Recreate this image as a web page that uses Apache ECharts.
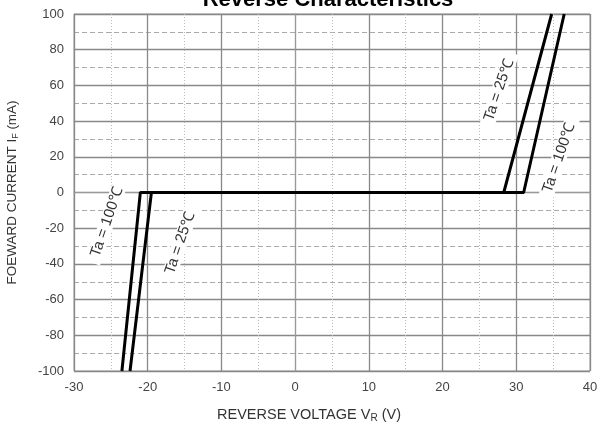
<!DOCTYPE html>
<html>
<head>
<meta charset="utf-8">
<script src="https://cdn.jsdelivr.net/npm/echarts@6/dist/echarts.min.js"></script>
<style>html,body{margin:0;padding:0;background:#fff}#c{width:597px;height:426px}</style>
</head>
<body>
<div id="c"></div>
<script>
const titleText = 'Reverse Characteristics';
const xTicks = [-30, -20, -10, 0, 10, 20, 30, 40];
const yTicks = [-100, -80, -60, -40, -20, 0, 20, 40, 60, 80, 100];
const curve25V = [-22.4, -19.5, 28.3, 34.8];
const curve25I = [-100, 0, 0, 100];
const curve100V = [-23.5, -21.0, 31.0, 36.5];
const curve100I = [-100, 0, 0, 100];
const labels = ['Ta = 25℃', 'Ta = 100℃'];

const chart = echarts.init(document.getElementById('c'), null, {renderer: 'canvas'});
const pair = (xs, ys) => xs.map((v, i) => [v, ys[i]]);
const font = 'Liberation Sans, Arial, sans-serif';
const lbl = (text, x, y) => ({
  type: 'text', x: x, y: y, rotation: 71 * Math.PI / 180, z: 10,
  style: {text: text, fontFamily: font, fontSize: 15, fontStyle: 'normal', fill: '#333',
    align: 'center', verticalAlign: 'middle', backgroundColor: '#fff', padding: [0, 7]}
});
chart.setOption({
  animation: false,
  title: {text: titleText, left: 323, textAlign: 'center', top: -16,
    textStyle: {fontFamily: font, fontSize: 22, fontWeight: 'bold', color: '#000'}},
  grid: {left: 74, right: 7, top: 14, bottom: 55, show: true, borderColor: '#999', borderWidth: 1,
    containLabel: false, outerBoundsMode: 'none'},
  xAxis: {
    type: 'value', min: xTicks[0], max: xTicks[xTicks.length - 1], interval: 10,
    name: 'REVERSE VOLTAGE V{s|R} (V)', nameLocation: 'middle', nameGap: 35,
    nameTextStyle: {fontFamily: font, fontSize: 14.5, color: '#333', padding: [0, 46, 0, 0],
      rich: {s: {fontSize: 10, verticalAlign: 'bottom', padding: [7, 0, 0, 0], color: '#333'}}},
    axisLine: {lineStyle: {color: '#999'}}, axisTick: {show: false},
    axisLabel: {fontFamily: font, fontSize: 13, color: '#444', margin: 10},
    splitLine: {lineStyle: {color: '#888', width: 1.3}},
    minorTick: {show: false, splitNumber: 2},
    minorSplitLine: {show: true, lineStyle: {color: '#bbb', type: [1, 2], width: 1}}
  },
  yAxis: {
    type: 'value', min: yTicks[0], max: yTicks[yTicks.length - 1], interval: 20,
    name: 'FOEWARD CURRENT I{s|F} (mA)', nameLocation: 'middle', nameGap: 54,
    nameTextStyle: {fontFamily: font, fontSize: 13.5, color: '#333',
      rich: {s: {fontSize: 9, verticalAlign: 'bottom', padding: [6, 0, 0, 0], color: '#333'}}},
    axisLine: {lineStyle: {color: '#999'}}, axisTick: {show: false},
    axisLabel: {fontFamily: font, fontSize: 13, color: '#444', margin: 10},
    splitLine: {lineStyle: {color: '#888', width: 1.3}},
    minorTick: {show: false, splitNumber: 2},
    minorSplitLine: {show: true, lineStyle: {color: '#aaa', type: [5, 3], width: 1}}
  },
  series: [
    {name: labels[0], type: 'line', data: pair(curve25V, curve25I), showSymbol: false, z: 5,
      lineStyle: {color: '#000', width: 3}},
    {name: labels[1], type: 'line', data: pair(curve100V, curve100I), showSymbol: false, z: 5,
      lineStyle: {color: '#000', width: 3}}
  ],
  graphic: [
    lbl(labels[0], 499, 90),
    lbl(labels[1], 559, 158),
    lbl(labels[1], 107, 222),
    lbl(labels[0], 180, 243)
  ]
});
</script>
</body>
</html>
